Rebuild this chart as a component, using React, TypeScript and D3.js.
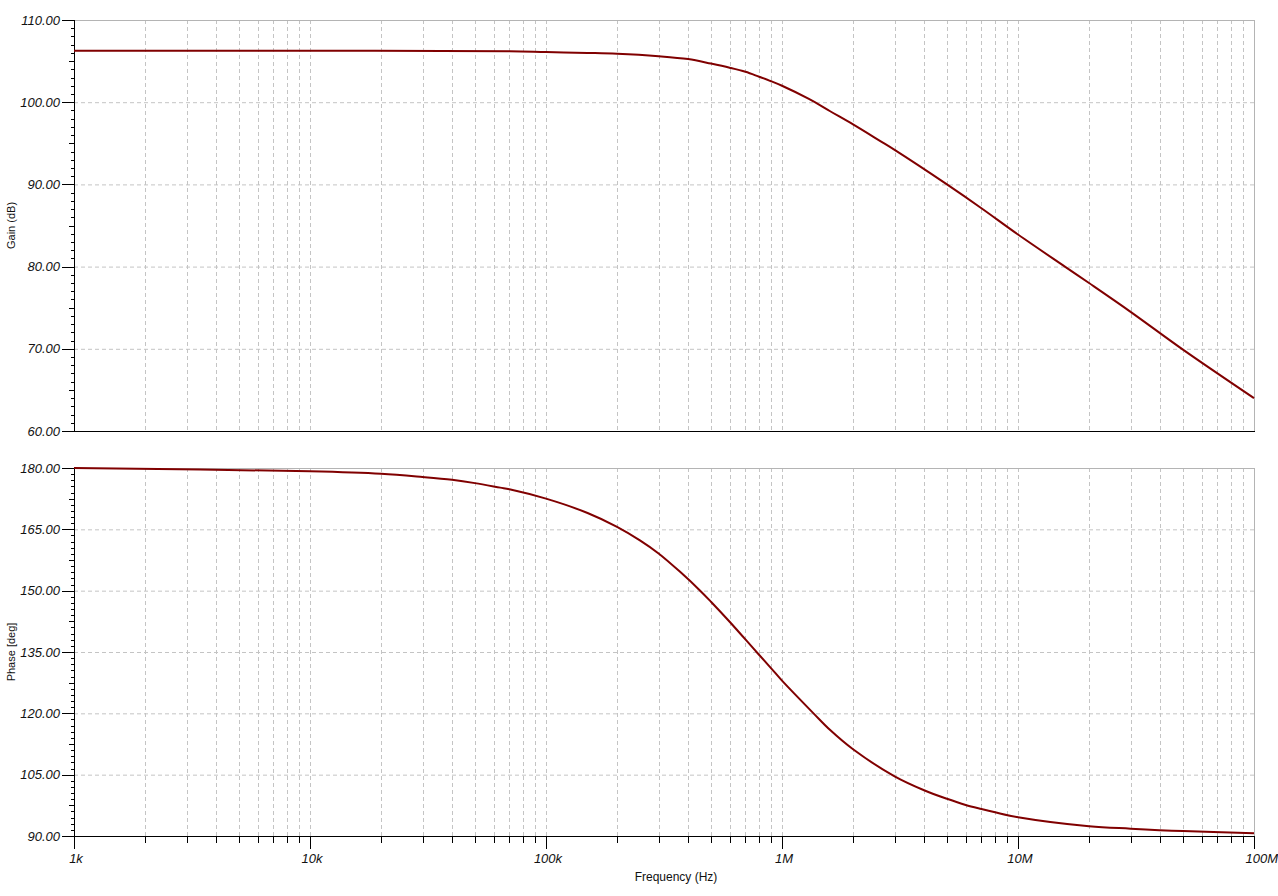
import React, { useRef, useEffect } from 'react';
import * as d3 from 'd3';

// Bode plot (frequency in Hz)
const gainFreq = [1e3, 1e4, 7e4, 1e5, 1.5e5, 2e5, 3e5, 4e5, 5e5, 6e5, 7e5, 8e5, 9e5, 1e6, 1.3e6, 1.6e6, 2e6, 2.6e6, 3e6, 5e6, 7e6, 1e7, 1.58e7, 2e7, 3e7, 5e7, 1e8];
const gainDb = [106.25, 106.25, 106.2, 106.1, 106.0, 105.9, 105.6, 105.25, 104.7, 104.2, 103.7, 103.1, 102.55, 102.0, 100.4, 98.9, 97.3, 95.3, 94.2, 90.0, 87.1, 83.9, 80.0, 78.0, 74.5, 69.9, 64.0];

const phaseFreq = [1e3, 1e4, 2e4, 3e4, 4e4, 5e4, 6.4e4, 7e4, 1e5, 1.5e5, 2e5, 2.5e5, 3e5, 3.7e5, 4.5e5, 5e5, 6e5, 7.8e5, 9e5, 1e6, 1.36e6, 1.6e6, 2e6, 3e6, 4e6, 5e6, 6e6, 7e6, 8e6, 1e7, 2e7, 3e7, 5e7, 1e8];
const phaseDeg = [180, 179.2, 178.6, 177.8, 177.1, 176.3, 175.2, 174.8, 172.5, 169.0, 165.6, 162.3, 159.1, 154.6, 150.0, 147.3, 142.4, 135.0, 131.0, 128.0, 120.0, 115.9, 111.2, 104.6, 101.2, 99.1, 97.6, 96.6, 95.8, 94.6, 92.4, 91.8, 91.2, 90.7];

const decadeLabels = ['1k', '10k', '100k', '1M', '10M', '100M'];
const gainTicks = [60, 70, 80, 90, 100, 110];
const phaseTicks = [90, 105, 120, 135, 150, 165, 180];

const W = 1278;
const H = 896;
const left = 74;
const right = 1254;
const gridColor = '#c4c4c4';
const lineColor = '#800000';
const font = '"Liberation Sans", Arial, sans-serif';

export default function App() {
  const svgRef = useRef(null);

  useEffect(() => {
    const svg = d3.select(svgRef.current);
    svg.selectAll('*').remove();

    const x = d3.scaleLog().domain([1e3, 1e8]).range([left, right]);

    // all decade + in-between frequencies for the vertical grid
    const gridFreqs = [];
    for (let e = 3; e < 8; e++) {
      for (let m = 1; m < 10; m++) gridFreqs.push(m * Math.pow(10, e));
    }
    gridFreqs.push(1e8);

    const panel = (top, bottom, domain, ticks, step, freq, vals, label, showX) => {
      const y = d3.scaleLinear().domain(domain).range([bottom, top]);
      const g = svg.append('g');

      // horizontal dashed grid
      g.selectAll('line.hg')
        .data(ticks.filter(t => t !== domain[0] && t !== domain[1]))
        .enter().append('line')
        .attr('x1', left).attr('x2', right)
        .attr('y1', d => y(d) + 0.5).attr('y2', d => y(d) + 0.5)
        .attr('stroke', gridColor)
        .attr('stroke-dasharray', '4 3');

      // vertical dashed grid
      g.selectAll('line.vg')
        .data(gridFreqs.filter(f => f > 1e3 && f < 1e8))
        .enter().append('line')
        .attr('x1', d => Math.round(x(d)) + 0.5).attr('x2', d => Math.round(x(d)) + 0.5)
        .attr('y1', top).attr('y2', bottom)
        .attr('stroke', gridColor)
        .attr('stroke-dasharray', '4 3');

      // frame: gray top / right, black left / bottom
      g.append('line').attr('x1', left).attr('x2', right).attr('y1', top + 0.5).attr('y2', top + 0.5).attr('stroke', '#b4b4b4');
      g.append('line').attr('x1', right + 0.5).attr('x2', right + 0.5).attr('y1', top).attr('y2', bottom).attr('stroke', '#b4b4b4');

      // y minor ticks (10 per major, middle one longer)
      const minors = [];
      for (let i = 0; i <= Math.round((domain[1] - domain[0]) / (step / 10)); i++) {
        minors.push({ v: domain[0] + i * step / 10, k: i % 10 });
      }
      g.selectAll('line.ym')
        .data(minors)
        .enter().append('line')
        .attr('x1', d => left - (d.k === 0 ? 12 : d.k === 5 ? 5 : 3))
        .attr('x2', left)
        .attr('y1', d => Math.round(y(d.v)) + 0.5)
        .attr('y2', d => Math.round(y(d.v)) + 0.5)
        .attr('stroke', '#000');

      g.selectAll('text.yl')
        .data(ticks)
        .enter().append('text')
        .attr('x', 60)
        .attr('y', d => y(d))
        .attr('dy', '0.36em')
        .attr('text-anchor', 'end')
        .attr('font-family', font)
        .attr('font-style', 'italic')
        .attr('font-size', 13)
        .attr('fill', '#111')
        .text(d => d.toFixed(2));

      g.append('line').attr('x1', left + 0.5).attr('x2', left + 0.5).attr('y1', top).attr('y2', bottom + 1).attr('stroke', '#000');
      g.append('line').attr('x1', left).attr('x2', right + 1).attr('y1', bottom + 0.5).attr('y2', bottom + 0.5).attr('stroke', '#000');

      if (showX) {
        g.selectAll('line.xt')
          .data(gridFreqs)
          .enter().append('line')
          .attr('x1', d => Math.round(x(d)) + 0.5).attr('x2', d => Math.round(x(d)) + 0.5)
          .attr('y1', bottom)
          .attr('y2', (d, i) => bottom + (i % 9 === 0 ? 13 : 7))
          .attr('stroke', '#000');

        g.selectAll('text.xl')
          .data(decadeLabels)
          .enter().append('text')
          .attr('x', (d, i) => i === decadeLabels.length - 1 ? W : x(Math.pow(10, 3 + i)) + 2)
          .attr('y', bottom + 27)
          .attr('text-anchor', (d, i) => i === decadeLabels.length - 1 ? 'end' : 'middle')
          .attr('font-family', font)
          .attr('font-style', 'italic')
          .attr('font-size', 13)
          .attr('fill', '#111')
          .text(d => d);
      }

      const line = d3.line()
        .x((d, i) => x(freq[i]))
        .y(d => y(d))
        .curve(d3.curveCatmullRom.alpha(0.5));

      g.append('path')
        .datum(vals)
        .attr('fill', 'none')
        .attr('stroke', lineColor)
        .attr('stroke-width', 2)
        .attr('d', line);

      g.append('text')
        .attr('transform', `translate(15,${(top + bottom) / 2}) rotate(-90)`)
        .attr('text-anchor', 'middle')
        .attr('font-family', font)
        .attr('font-size', 11)
        .attr('fill', '#111')
        .text(label);
    };

    panel(20, 431, [60, 110], gainTicks, 10, gainFreq, gainDb, 'Gain (dB)', false);
    panel(468, 836, [90, 180], phaseTicks, 15, phaseFreq, phaseDeg, 'Phase [deg]', true);

    svg.append('text')
      .attr('x', (left + right) / 2 + 12)
      .attr('y', 881)
      .attr('text-anchor', 'middle')
      .attr('font-family', font)
      .attr('font-size', 12)
      .attr('fill', '#111')
      .text('Frequency (Hz)');
  }, []);

  return (
    <svg
      ref={svgRef}
      width={W}
      height={H}
      style={{ position: 'absolute', left: 0, top: 0, background: '#fff' }}
    />
  );
}
